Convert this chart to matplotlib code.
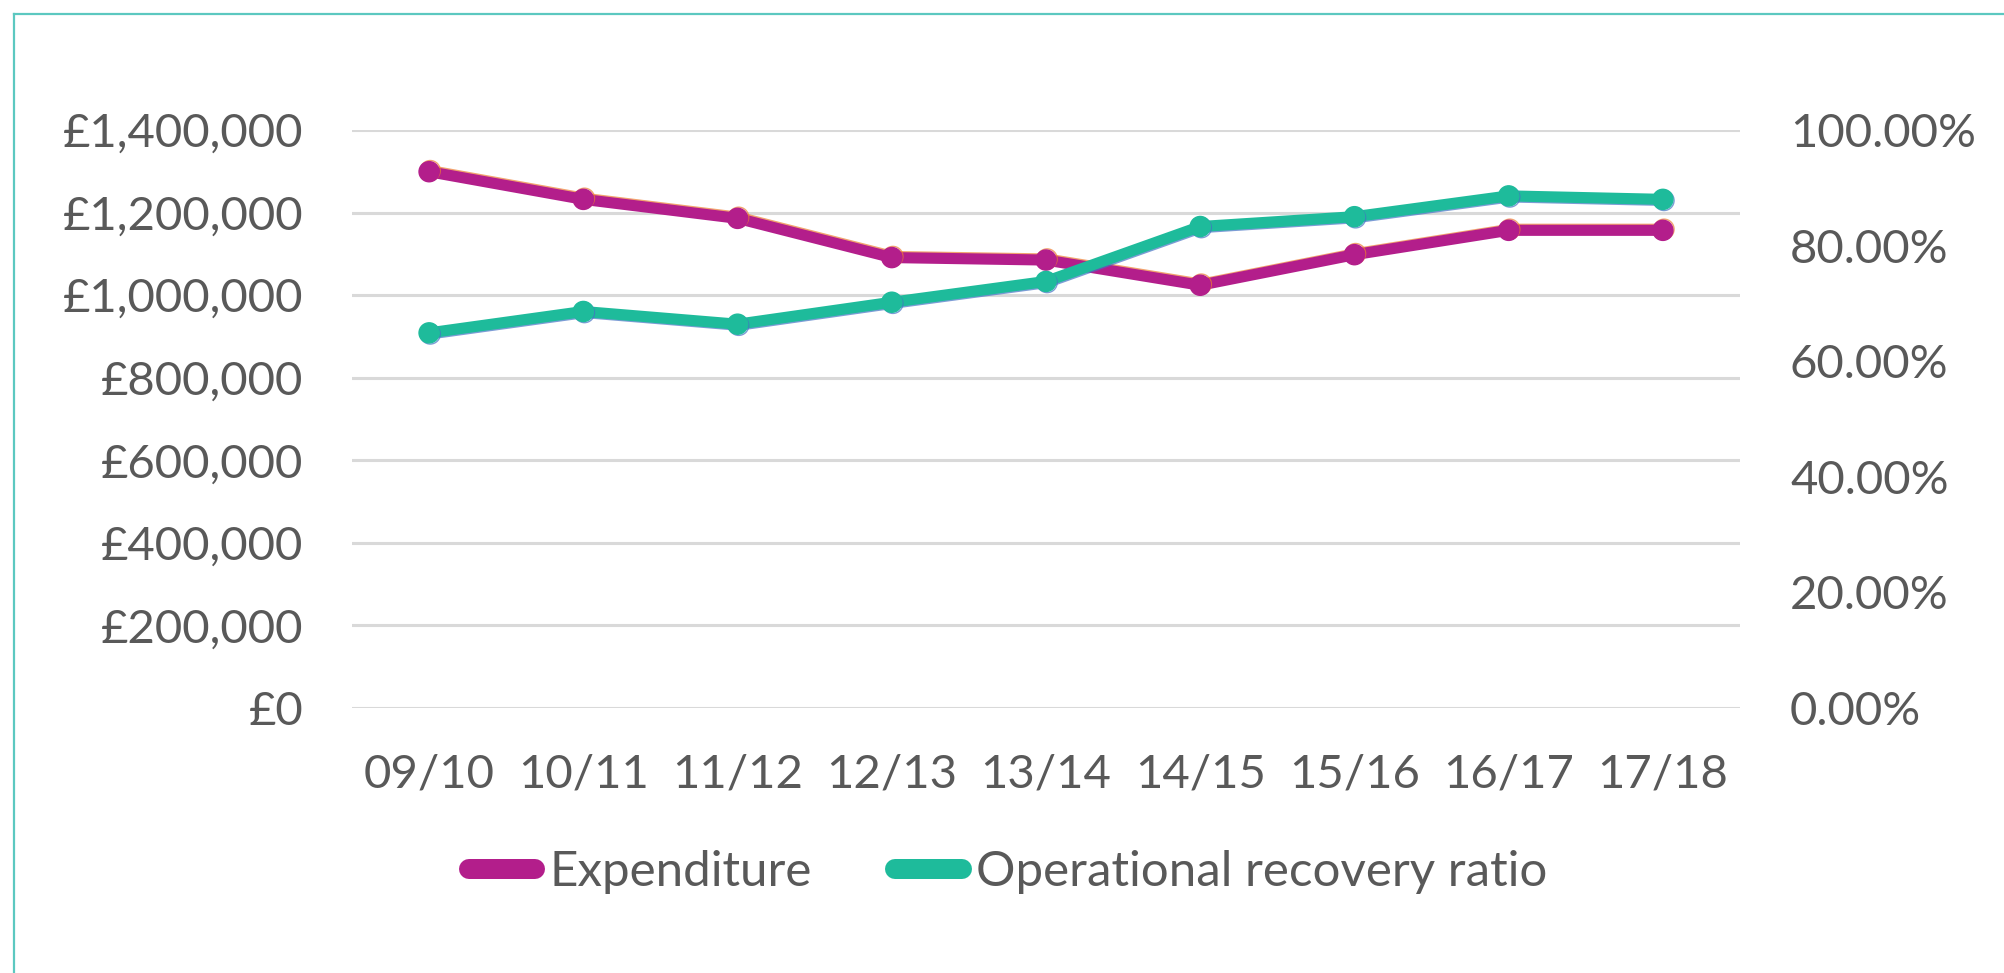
import matplotlib
matplotlib.use("Agg")
import matplotlib.pyplot as plt
from matplotlib.ticker import FuncFormatter
from matplotlib.lines import Line2D
import matplotlib.patheffects as pe

categories = ["09/10", "10/11", "11/12", "12/13", "13/14", "14/15", "15/16", "16/17", "17/18"]
expenditure = [1299000, 1232000, 1186000, 1091000, 1085000, 1024000, 1098000, 1157000, 1157000]
recovery_ratio = [64.9, 68.6, 66.4, 70.2, 73.8, 83.3, 85.0, 88.6, 88.0]

MAGENTA = "#B31E8B"
TEAL = "#1EBB9B"
TEXT = "#595959"
GRID = "#D9D9D9"
FS = 34
LEG_FS = 35.5

plt.rcParams["font.family"] = ["Lato", "DejaVu Sans"]

fig = plt.figure(figsize=(20.04, 9.73), dpi=100)
ax = fig.add_axes([352/2004, 1 - 708/973, (1740-352)/2004, (708-130)/973])
ax2 = ax.twinx()

x = list(range(len(categories)))

ax.plot(x, expenditure, color=MAGENTA, lw=8, marker="o", ms=14.5, zorder=3,
        solid_capstyle="round",
        path_effects=[pe.SimpleLineShadow(offset=(0.8, 0.8), shadow_color="#ED7D31", alpha=0.7, rho=1), pe.Normal()])
ax2.plot(x, recovery_ratio, color=TEAL, lw=8, marker="o", ms=14.5, zorder=3,
         solid_capstyle="round",
         path_effects=[pe.SimpleLineShadow(offset=(0.8, -0.8), shadow_color="#4472C4", alpha=0.7, rho=1), pe.Normal()])

ax.set_xlim(-0.5, len(categories) - 0.5)
ax.set_ylim(0, 1400000)
ax2.set_ylim(0, 100)
ax.set_yticks(range(0, 1400001, 200000))
ax2.set_yticks(range(0, 101, 20))
ax.set_xticks(x)
ax.set_xticklabels(categories)

ax.yaxis.set_major_formatter(FuncFormatter(lambda v, p: "£{:,.0f}".format(v)))
ax2.yaxis.set_major_formatter(FuncFormatter(lambda v, p: "{:.2f}%".format(v)))

ax.grid(axis="y", color=GRID, lw=2.2, zorder=0)
ax.set_axisbelow(True)
for a in (ax, ax2):
    for s in a.spines.values():
        s.set_visible(False)
    a.tick_params(length=0, labelsize=FS, colors=TEXT)
ax.tick_params(axis="y", pad=35)
ax.tick_params(axis="x", pad=33)
ax2.tick_params(axis="y", pad=36)

handles = [
    Line2D([0], [0], color=MAGENTA, lw=14.4, solid_capstyle="round"),
    Line2D([0], [0], color=TEAL, lw=14.4, solid_capstyle="round"),
]
leg = fig.legend(handles, ["Expenditure", "Operational recovery ratio"],
                 loc="center", bbox_to_anchor=(1008/2004, 1 - 872/973),
                 ncol=2, frameon=False, fontsize=LEG_FS, handlelength=1.35,
                 handletextpad=0.28, columnspacing=1.7, labelcolor=TEXT)

# border
BORDER = "#5CC8C0"
fig.add_artist(Line2D([14/2004, 14/2004], [0, 1 - 14/973], transform=fig.transFigure, color=BORDER, lw=1.6))
fig.add_artist(Line2D([14/2004, 1], [1 - 14/973, 1 - 14/973], transform=fig.transFigure, color=BORDER, lw=1.6))

fig.savefig("out.png", dpi=100)
